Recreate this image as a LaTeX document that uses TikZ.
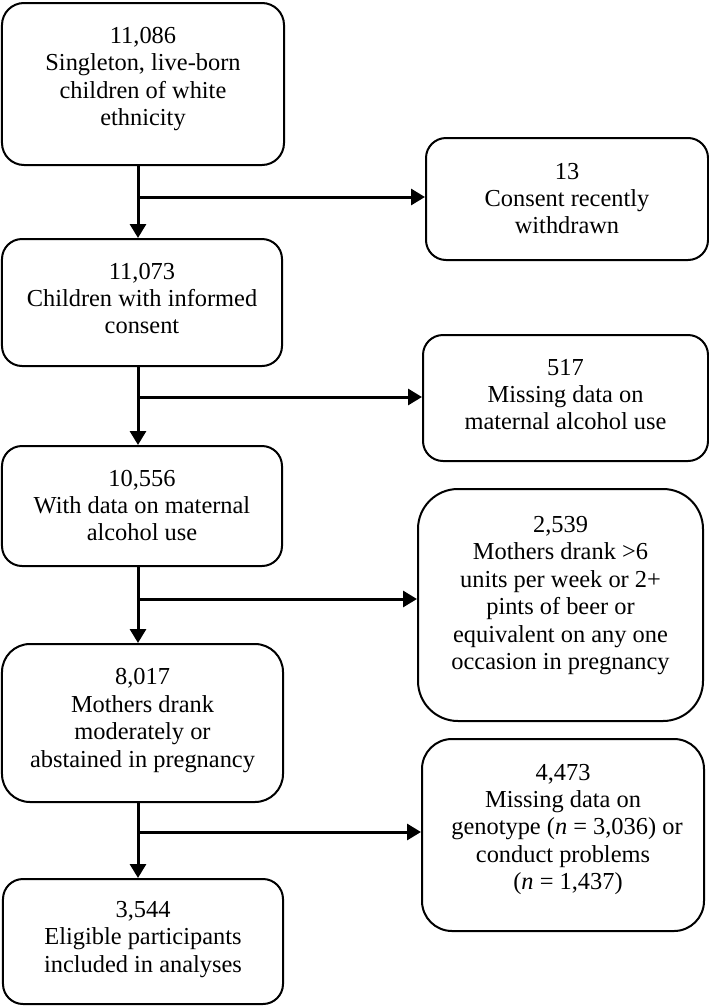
\documentclass[tikz,border=0pt]{standalone}
\usepackage{fontspec}
\setmainfont{Liberation Serif}
\usetikzlibrary{arrows.meta}
\begin{document}
\begin{tikzpicture}[x=1bp,y=-1bp,
  box/.style={draw=black, line width=2bp, rounded corners=#1, inner sep=0pt},
  box/.default=20bp,
  txt/.style={align=center, inner sep=0pt, font=\fontsize{24.4bp}{27.4bp}\selectfont},
  arr/.style={line width=3bp, -{Triangle[width=16bp,length=14bp]}}]
\useasboundingbox (0,0) rectangle (709,1006);

% left column boxes
\node[box=22bp, minimum width=282bp, minimum height=162bp] (b1) at (143,84) {};
\node[box=20bp, minimum width=280bp, minimum height=127bp] (b2) at (142,302.5) {};
\node[box=20bp, minimum width=280bp, minimum height=120bp] (b3) at (142,506) {};
\node[box=28bp, minimum width=281bp, minimum height=158bp] (b4) at (142.5,723) {};
\node[box=20bp, minimum width=280bp, minimum height=125bp] (b5) at (143,941.5) {};

% right column boxes
\node[box=20bp, minimum width=282bp, minimum height=122bp] (r1) at (567,199) {};
\node[box=20bp, minimum width=285bp, minimum height=126bp] (r2) at (565.5,398) {};
\node[box=40bp, minimum width=285bp, minimum height=232bp] (r3) at (560.5,605) {};
\node[box=30bp, minimum width=282bp, minimum height=192bp] (r4) at (563,835) {};

% texts
\node[txt] (t1) at (143,79) {11,086\\Singleton, live-born\\children of white\\ethnicity};
\node[txt] (t2) at (142,298.5) {11,073\\Children with informed\\consent};
\node[txt] (t3) at (142,505.5) {10,556\\With data on maternal\\alcohol use};
\node[txt] (t4) at (142.5,720.5) {8,017\\Mothers drank\\moderately or\\abstained in pregnancy};
\node[txt] (t5) at (143,939.5) {3,544\\Eligible participants\\included in analyses};

\node[txt] (s1) at (567,198.5) {13\\Consent recently\\withdrawn};
\node[txt] (s2) at (565.5,394.5) {517\\Missing data on\\maternal alcohol use};
\node[txt] (s3) at (560.5,595.5) {2,539\\Mothers drank >6\\units per week or 2+\\pints of beer or\\equivalent on any one\\occasion in pregnancy};
\node[txt] (s4) at (563,829.5) {4,473\\Missing data on\\\hspace*{8bp}genotype (\textit{n} = 3,036) or\\conduct problems\\\hspace*{10bp}(\textit{n} = 1,437)};

% connectors
\coordinate (j1) at (138,197);
\coordinate (j2) at (138,397);
\coordinate (j3) at (138,599);
\coordinate (j4) at (138,832);

\draw[arr] (j1 |- b1.south) -- (j1 |- b2.north);
\draw[arr] (j1) -- (j1 -| r1.west);
\draw[arr] (j2 |- b2.south) -- (j2 |- b3.north);
\draw[arr] (j2) -- (j2 -| r2.west);
\draw[arr] (j3 |- b3.south) -- (j3 |- b4.north);
\draw[arr] (j3) -- (j3 -| r3.west);
\draw[arr] (j4 |- b4.south) -- (j4 |- b5.north);
\draw[arr] (j4) -- (j4 -| r4.west);
\end{tikzpicture}
\end{document}
